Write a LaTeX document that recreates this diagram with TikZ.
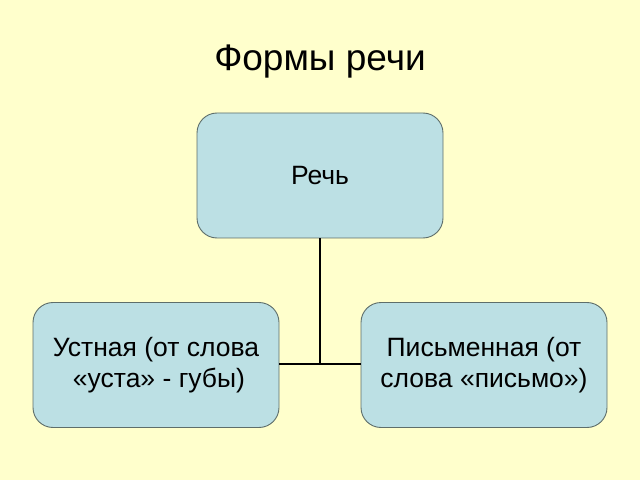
\documentclass[tikz,border=0pt]{standalone}
\usepackage{fontspec}
\setmainfont{Liberation Sans}
\definecolor{bg}{HTML}{FFFFCC}
\definecolor{boxfill}{HTML}{BCE0E4}
\definecolor{boxline}{HTML}{5E6E6A}
\begin{document}
\begin{tikzpicture}[x=1pt,y=1pt,
  box/.style={draw=boxline, line width=0.9pt, fill=boxfill, rounded corners=20pt,
    minimum width=246pt, minimum height=125pt, inner sep=0pt, align=center,
    font=\fontsize{26.5}{31}\selectfont},
  conn/.style={draw=black, line width=1.6pt}]
\fill[bg] (0,0) rectangle (640,480);
\useasboundingbox (0,0) rectangle (640,480);
\node[font=\fontsize{37}{42}\selectfont] (title) at (320,418) {Формы речи};
\node[box] (r) at (320,304.5) {\raisebox{-6pt}{Речь}};
\node[box] (a) at (156,115) {Устная (от слова\\\hspace*{6pt}«уста» - губы)};
\node[box] (b) at (484,115) {Письменная (от\\слова «письмо»)};
\draw[conn] (r.south) -- (r.south |- 0,116);
\draw[conn] (a.east |- 0,116) -- (b.west |- 0,116);
\end{tikzpicture}
\end{document}
